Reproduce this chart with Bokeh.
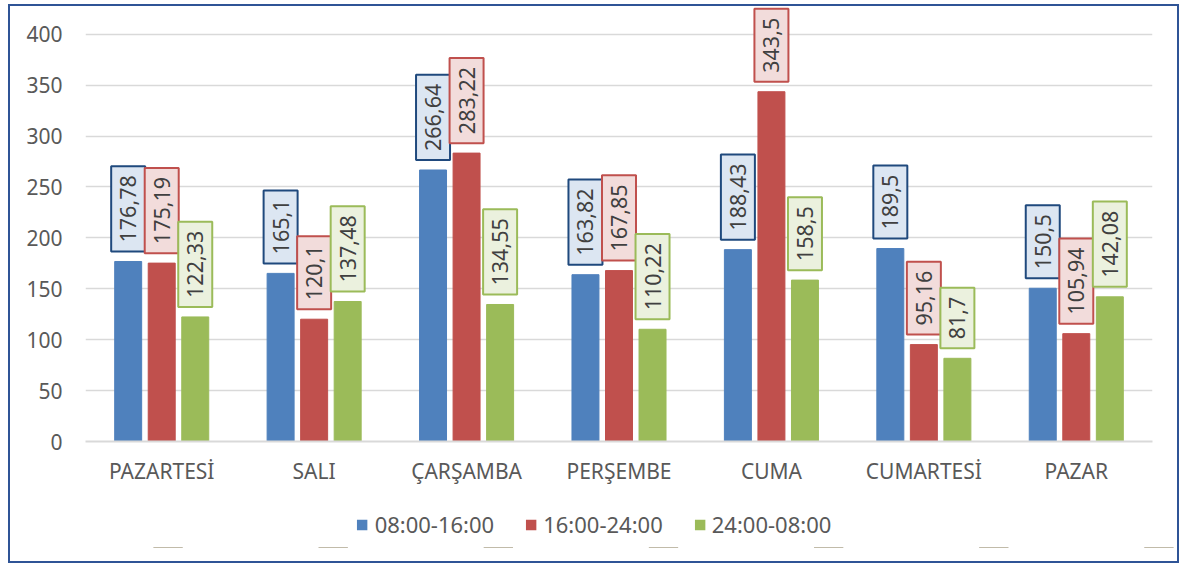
import math
from bokeh.plotting import figure
from bokeh.layouts import column
from bokeh.models import ColumnDataSource, FactorRange, Range1d, FixedTicker, Legend, LegendItem
from bokeh.transform import dodge
from bokeh.embed import file_html
from bokeh.resources import INLINE
from bokeh.core.properties import value

days = ["PAZARTESİ", "SALI", "ÇARŞAMBA", "PERŞEMBE", "CUMA", "CUMARTESİ", "PAZAR"]
series_names = ["08:00-16:00", "16:00-24:00", "24:00-08:00"]
s1 = [176.78, 165.1, 266.64, 163.82, 188.43, 189.5, 150.5]
s2 = [175.19, 120.1, 283.22, 167.85, 343.5, 95.16, 105.94]
s3 = [122.33, 137.48, 134.55, 110.22, 158.5, 81.7, 142.08]
y_ticks = [0, 50, 100, 150, 200, 250, 300, 350, 400]

FONT = "Noto Sans"
TXT = "#595959"
bar_colors = ["#4F81BD", "#C0504D", "#9BBB59"]
box_fill = ["#DCE6F2", "#F2DCDB", "#EBF1DE"]
box_line = ["#1F497D", "#C0504D", "#9BBB59"]
offsets = [-0.22, 0.0, 0.22]
BAR_W = 0.177
GAP = 9.8  # label gap above bar in data units

def fmt(v):
    return str(v).replace(".", ",")

data = {"day": days}
for i, s in enumerate([s1, s2, s3]):
    data[f"v{i}"] = s
    data[f"t{i}"] = [fmt(v) for v in s]
    data[f"y{i}"] = [v + GAP for v in s]
src = ColumnDataSource(data)

p = figure(x_range=FactorRange(*days), y_range=Range1d(0, 427.2),
           frame_width=1067, frame_height=435, output_backend="svg", toolbar_location=None,
           min_border_left=75, min_border_right=25, min_border_top=0, min_border_bottom=60)

for i in range(3):
    p.vbar(x=dodge("day", offsets[i], range=p.x_range), top=f"v{i}", width=BAR_W,
           source=src, fill_color=bar_colors[i], line_color=bar_colors[i])
    p.text(x=dodge("day", offsets[i], range=p.x_range), y=f"y{i}", text=f"t{i}", source=src,
           angle=math.pi / 2, text_align="left", text_baseline="middle",
           text_font=value(FONT), text_font_size="21.5px", text_color="#404040",
           background_fill_color=box_fill[i], border_line_color=box_line[i],
           border_line_width=2, padding=9)

p.outline_line_color = None
p.xgrid.grid_line_color = None
p.ygrid.ticker = FixedTicker(ticks=y_ticks)
p.ygrid.grid_line_color = "#D9D9D9"
p.ygrid.grid_line_width = 1.5

p.yaxis.ticker = FixedTicker(ticks=y_ticks)
p.yaxis.axis_line_color = None
p.yaxis.major_tick_line_color = None
p.yaxis.minor_tick_line_color = None
p.yaxis.major_tick_out = 0
p.yaxis.minor_tick_out = 0
p.yaxis.major_label_standoff = 23
p.yaxis.major_label_text_font = FONT
p.yaxis.major_label_text_font_size = "21px"
p.yaxis.major_label_text_color = TXT

p.xaxis.axis_line_color = "#D9D9D9"
p.xaxis.axis_line_width = 2
p.xaxis.major_tick_line_color = None
p.xaxis.major_tick_out = 0
p.xaxis.major_label_standoff = 15
p.xaxis.major_label_text_font = FONT
p.xaxis.major_label_text_font_size = "21px"
p.xaxis.major_label_text_color = TXT

# legend strip below the chart; its swatches reuse the bar series' data (drawn out of view)
q = figure(x_range=FactorRange(*days), y_range=Range1d(1000, 1001),
           frame_width=1156, frame_height=46, output_backend="svg", toolbar_location=None,
           min_border_left=11, min_border_right=0, min_border_top=0, min_border_bottom=14)
q.axis.visible = False
q.grid.visible = False
q.outline_line_color = None
leg_renderers = [q.vbar(x="day", top=f"v{i}", width=BAR_W, source=src,
                        fill_color=bar_colors[i], line_color=None)
                 for i in range(3)]
legend = Legend(items=[LegendItem(label=series_names[i], renderers=[leg_renderers[i]], index=0)
                       for i in range(3)],
                orientation="horizontal", location="center",
                glyph_width=13, glyph_height=13, label_standoff=6, spacing=30, label_height=20,
                label_text_font=FONT, label_text_font_size="22px", label_text_color=TXT,
                border_line_color=None, background_fill_alpha=0, padding=0, margin=0)
q.add_layout(legend)

layout = column(p, q, spacing=0,
                styles={"margin-left": "10px", "margin-top": "6px",
                        "outline": "2px solid #2F5496", "outline-offset": "0px"})

open("out.html", "w").write(file_html(layout, INLINE))
